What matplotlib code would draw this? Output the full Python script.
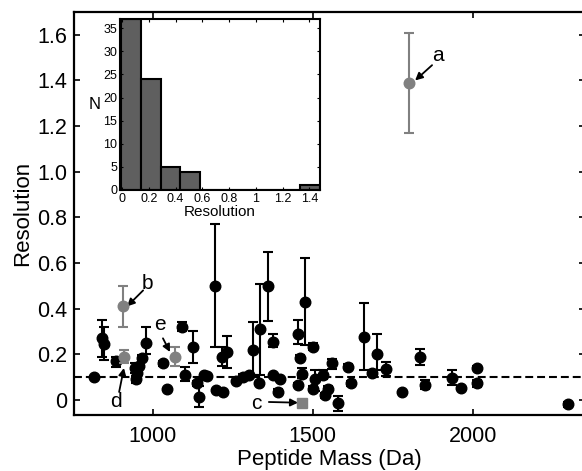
import numpy as np
from matplotlib import pyplot as plt

plt.rcParams['font.family'] = ['Liberation Sans', 'DejaVu Sans']

# peptide data (black points)
mass = [817, 841, 849, 885, 945, 952, 947, 958, 966, 978,
        1031, 1044, 1091, 1102, 1125, 1137, 1146, 1160, 1170, 1195,
        1197, 1215, 1221, 1231, 1260, 1283, 1300, 1312, 1335, 1333,
        1361, 1377, 1375, 1398, 1393, 1455, 1476, 1460, 1502, 1467,
        1455, 1507, 1502, 1533, 1549, 1538, 1559, 1580, 1611, 1619,
        1660, 1684, 1700, 1729, 1778, 1835, 1851, 1934, 1963, 2012,
        2012, 2299]
resolution = [0.10, 0.27, 0.245, 0.17, 0.14, 0.12, 0.09, 0.15, 0.185, 0.25,
              0.16, 0.05, 0.32, 0.11, 0.23, 0.073, 0.015, 0.11, 0.105, 0.50,
              0.044, 0.19, 0.036, 0.21, 0.082, 0.10, 0.11, 0.22, 0.31, 0.075,
              0.50, 0.255, 0.11, 0.09, 0.036, 0.29, 0.43, 0.185, 0.233, 0.115,
              0.066, 0.09, 0.05, 0.11, 0.05, 0.02, 0.16, -0.015, 0.146, 0.073,
              0.275, 0.12, 0.20, 0.135, 0.036, 0.19, 0.066, 0.095, 0.051, 0.142,
              0.073, -0.019]
err_low = [0.005, 0.08, 0.07, 0.025, 0.02, 0.02, 0.015, 0.01, 0.01, 0.05,
           0.01, 0.0, 0.02, 0.025, 0.07, 0.01, 0.045, 0.005, 0.005, 0.27,
           0.005, 0.04, 0.005, 0.07, 0.005, 0.01, 0.01, 0.11, 0.20, 0.005,
           0.155, 0.025, 0.005, 0.005, 0.01, 0.046, 0.19, 0.01, 0.015, 0.02,
           0.01, 0.05, 0.01, 0.02, 0.01, 0.01, 0.025, 0.032, 0.01, 0.01,
           0.145, 0.01, 0.07, 0.03, 0.0, 0.035, 0.02, 0.03, 0.005, 0.005,
           0.015, 0.01]
err_high = [0.005, 0.08, 0.075, 0.02, 0.02, 0.02, 0.015, 0.01, 0.01, 0.07,
            0.01, 0.0, 0.02, 0.035, 0.07, 0.01, 0.045, 0.005, 0.005, 0.27,
            0.005, 0.04, 0.005, 0.07, 0.005, 0.015, 0.01, 0.12, 0.20, 0.005,
            0.15, 0.035, 0.005, 0.005, 0.01, 0.06, 0.19, 0.01, 0.015, 0.025,
            0.01, 0.04, 0.01, 0.02, 0.01, 0.01, 0.02, 0.033, 0.01, 0.01,
            0.15, 0.01, 0.09, 0.03, 0.0, 0.035, 0.02, 0.035, 0.005, 0.005,
            0.015, 0.01]

# highlighted peptides a, b, d, e (gray circles) and c (gray square)
hl_labels = ['a', 'b', 'd', 'e']
hl_mass = [1802, 906, 911, 1070]
hl_res = [1.39, 0.41, 0.19, 0.19]
hl_err = [0.22, 0.09, 0.03, 0.04]
c_mass = 1466
c_res = -0.012

# histogram inset
hist_counts = [37, 24, 5, 4, 0, 0, 0, 0, 0, 1]
hist_start = -0.01
hist_width = 0.149

gray = '#808080'

fig = plt.figure(figsize=(5.82, 4.71), dpi=100)
ax = fig.add_axes([74 / 582, 1 - 415 / 471, 510.7 / 582, 403 / 471])

ax.axhline(0.1, color='k', lw=1.5, ls='--', dashes=(3.8, 1.9), zorder=1)
ax.errorbar(mass, resolution, yerr=[err_low, err_high], fmt='o', color='k',
            ms=7.6, elinewidth=1.5, capsize=3.3, capthick=1.5, zorder=3)
ax.errorbar(hl_mass, hl_res, yerr=hl_err, fmt='o', color=gray, ms=7.6,
            elinewidth=1.5, capsize=3.3, capthick=1.5, zorder=4)
ax.plot(c_mass, c_res, 's', color=gray, ms=6.5, zorder=4)

# letters + arrows
notes = [('a', (1892, 1.51), (1873, 1.467), (1820, 1.40)),
         ('b', (985, 0.51), (970, 0.48), (920, 0.41)),
         ('e', (1023, 0.33), (1032, 0.27), (1054, 0.21)),
         ('d', (884, -0.007), (895, 0.035), (910, 0.14)),
         ('c', (1325, -0.014), (1363, -0.009), (1454, -0.012))]
for lab, txt, tail, head in notes:
    ax.text(txt[0], txt[1], lab, fontsize=15, ha='center', va='center')
    ax.annotate('', xy=head, xytext=tail,
                arrowprops=dict(arrowstyle='-|>', color='k', lw=1.3,
                                mutation_scale=11, shrinkA=0, shrinkB=0))

ax.set_xlim(754, 2350)
ax.set_ylim(-0.066, 1.70)
ax.set_xticks([1000, 1500, 2000])
ax.set_yticks([0, 0.2, 0.4, 0.6, 0.8, 1.0, 1.2, 1.4, 1.6])
ax.set_yticklabels(['0', '0.2', '0.4', '0.6', '0.8', '1.0', '1.2', '1.4', '1.6'])
ax.tick_params(direction='in', top=True, right=True, length=4, width=1.2,
               labelsize=15.5)
ax.tick_params(axis='x', pad=8)
ax.tick_params(axis='y', pad=5)
for s in ax.spines.values():
    s.set_linewidth(1.6)
ax.set_xlabel('Peptide Mass (Da)', fontsize=16, labelpad=1)
ax.set_ylabel('Resolution', fontsize=16, labelpad=3)

# inset histogram
ins = fig.add_axes([120 / 582, 1 - 190 / 471, 200 / 582, 171 / 471])
lefts = [hist_start + i * hist_width for i in range(len(hist_counts))]
ins.bar(lefts, hist_counts, width=hist_width, align='edge', color='#5f5f5f',
        edgecolor='k', lw=1.5)
ins.set_xlim(-0.015, 1.48)
ins.set_ylim(0, 37)
ins.set_xticks([0, 0.2, 0.4, 0.6, 0.8, 1, 1.2, 1.4])
ins.set_xticklabels(['0', '0.2', '0.4', '0.6', '0.8', '1', '1.2', '1.4'])
ins.set_yticks([0, 5, 10, 15, 20, 25, 30, 35])
ins.tick_params(direction='in', top=True, right=True, length=2.5, width=0.8,
                labelsize=9, pad=2)
for s in ins.spines.values():
    s.set_linewidth(1.5)
ins.set_xlabel('Resolution', fontsize=11, labelpad=0)
ins.set_ylabel('N', fontsize=12, rotation=0, labelpad=6, va='center')

fig.savefig('out.png', dpi=100)
